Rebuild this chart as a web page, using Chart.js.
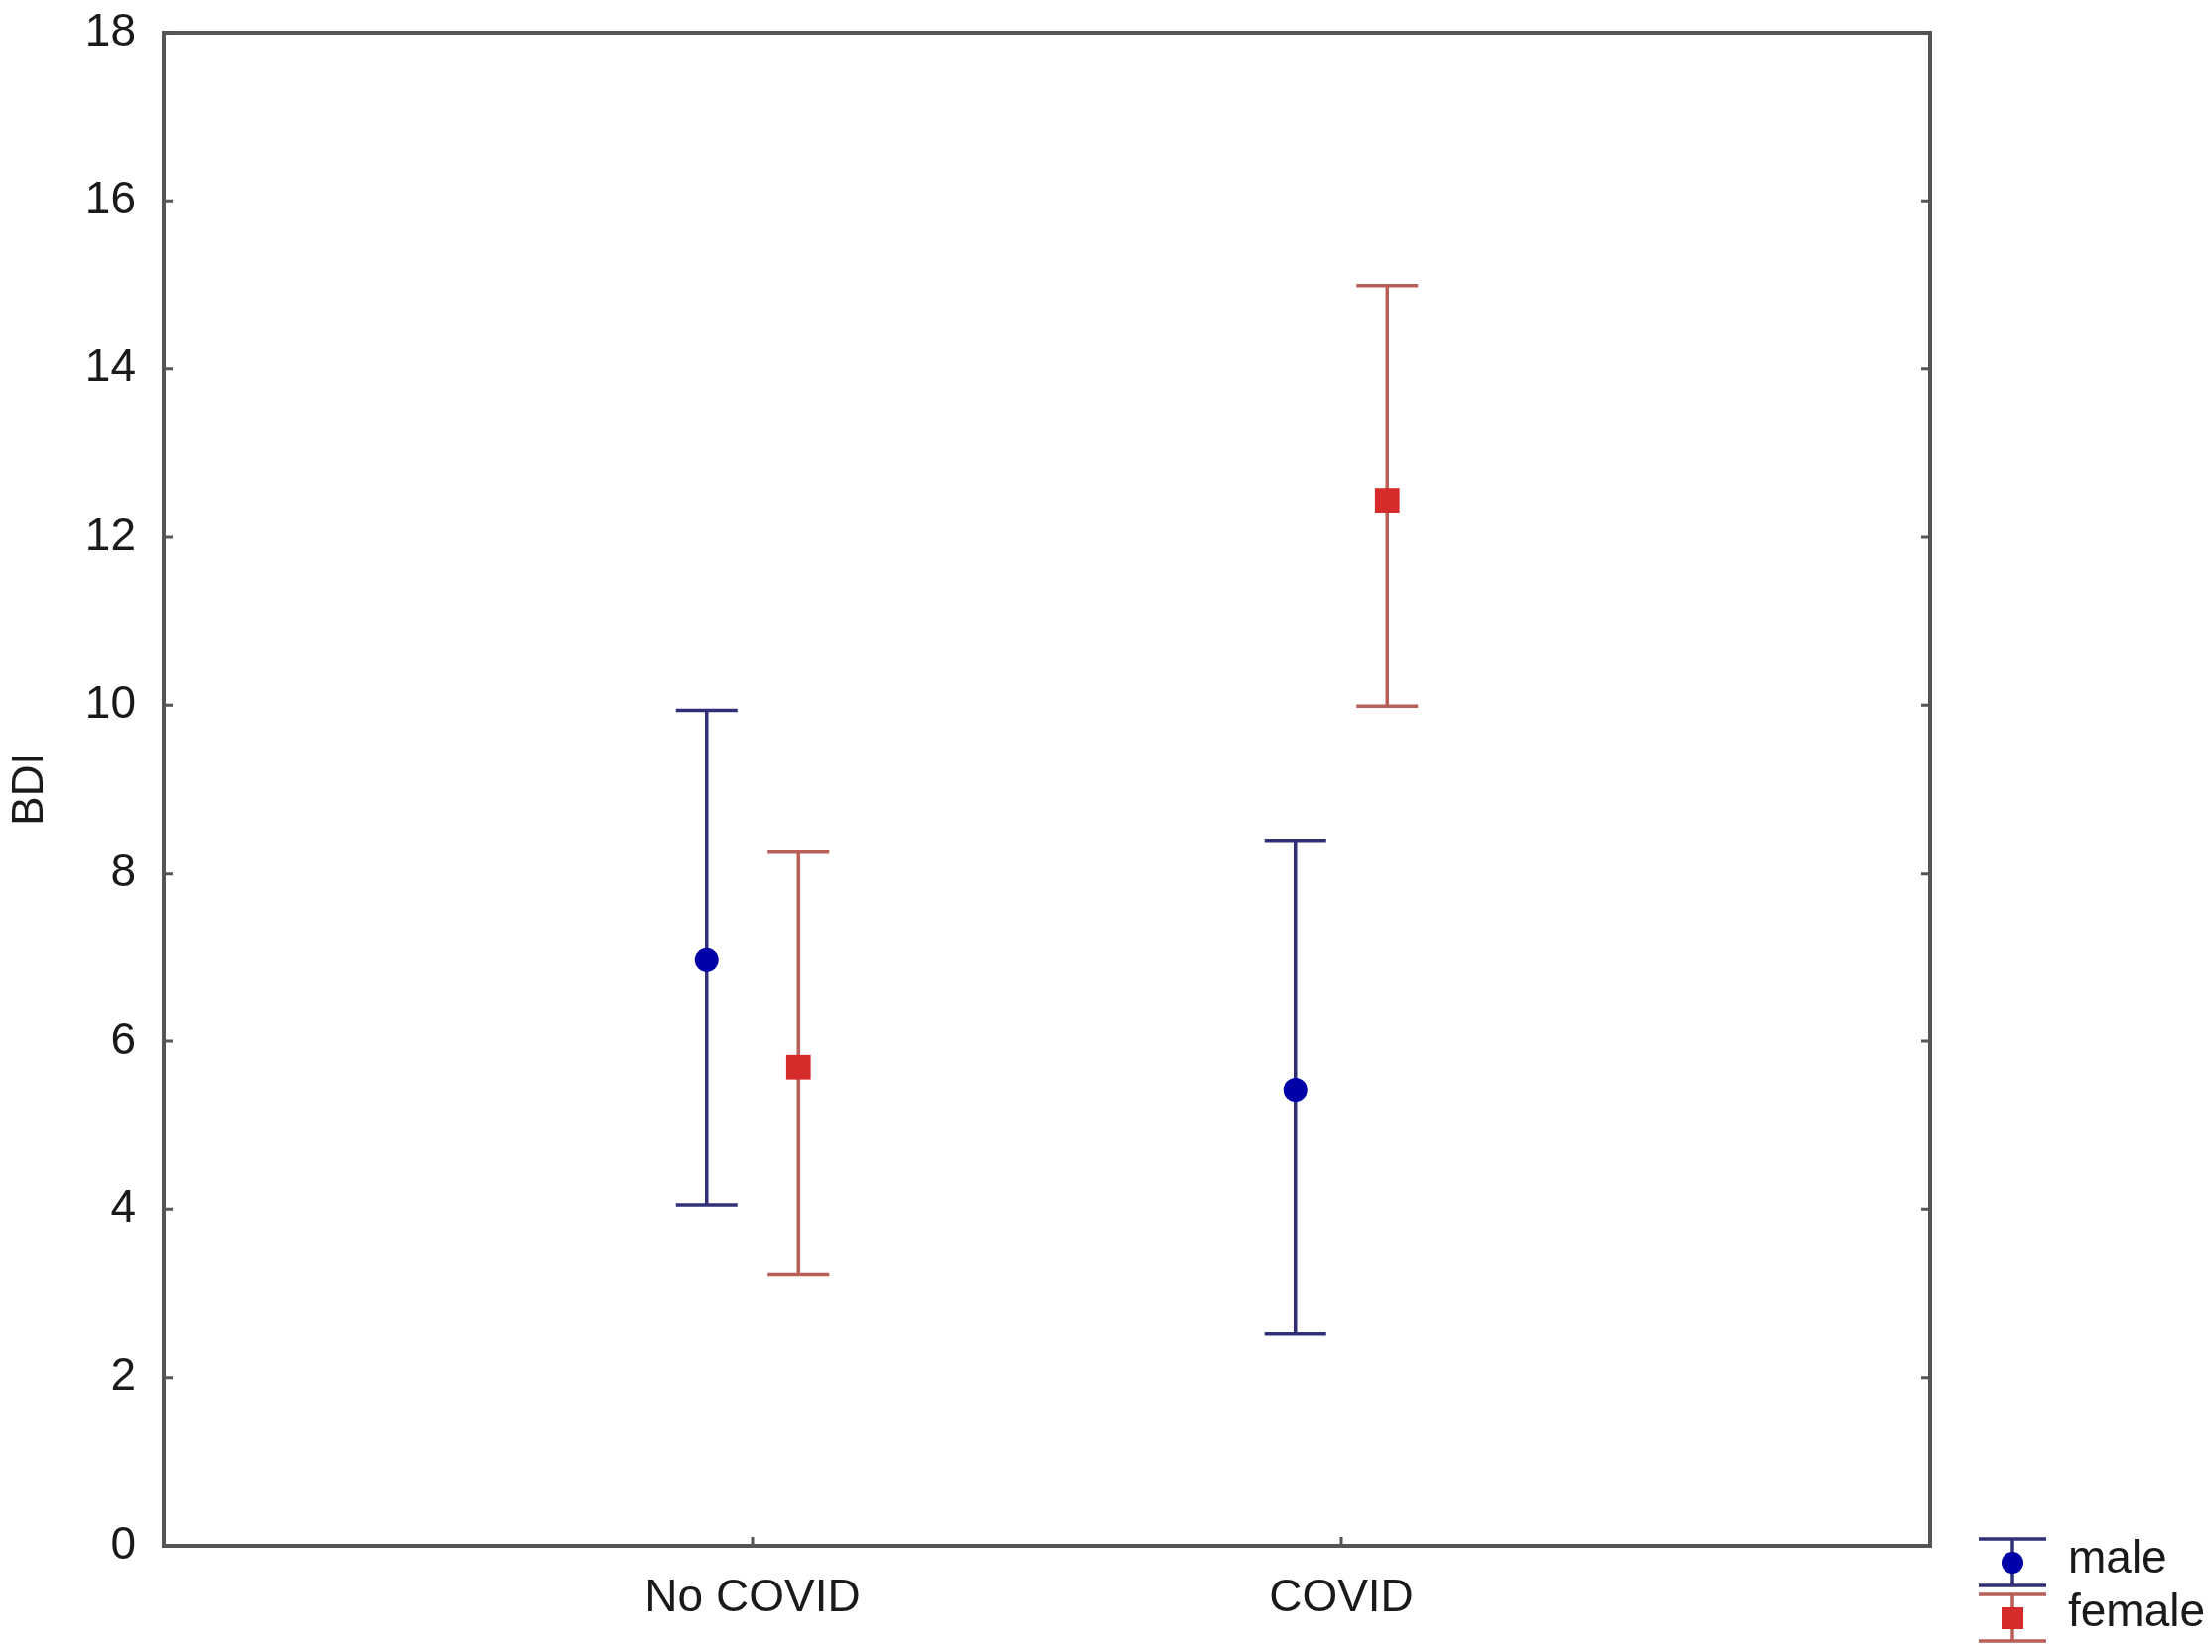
<!DOCTYPE html>
<html>
<head>
<meta charset="utf-8">
<script src="https://cdn.jsdelivr.net/npm/chart.js@4.4.1/dist/chart.umd.min.js"></script>
<style>
  html, body { margin: 0; padding: 0; background: #fff; }
  #wrap { width: 2228px; height: 1664px; position: relative; }
</style>
</head>
<body>
<div id="wrap"><canvas id="myChart"></canvas></div>
<script>
// BDI by group, mean with error bars
const categories = ['No COVID', 'COVID'];
const maleMean = [6.97, 5.42];
const maleLow = [4.05, 2.52];
const maleHigh = [9.94, 8.39];
const femaleMean = [5.69, 12.43];
const femaleLow = [3.23, 9.99];
const femaleHigh = [8.26, 14.99];
const yTicks = [0, 2, 4, 6, 8, 10, 12, 14, 16, 18];

const FONT = '"Liberation Sans", Arial, sans-serif';
const TEXT = '#1a1a1a';
const maleBar = '#303078';
const maleDot = '#0000a8';
const femaleBar = '#b85f58';
const femaleDot = '#d62b2b';

const shift = 0.078;

let series = [
    { label: 'male', mean: maleMean, low: maleLow, high: maleHigh, dx: -shift, bar: maleBar, dot: maleDot, style: 'circle', r: 12 },
    { label: 'female', mean: femaleMean, low: femaleLow, high: femaleHigh, dx: shift, bar: femaleBar, dot: femaleDot, style: 'rect', r: 17.5 }
];

let datasets = series.map(s => ({
    label: s.label,
    data: s.mean.map((v, i) => ({ x: i + 1 + s.dx, y: v, low: s.low[i], high: s.high[i] })),
    showLine: false,
    pointStyle: s.style,
    pointRadius: s.r,
    pointHoverRadius: s.r,
    backgroundColor: s.dot,
    borderColor: s.dot,
    borderWidth: 0,
    barColor: s.bar
}));

const errorBars = {
    id: 'errorBars',
    beforeDatasetsDraw(chart) {
        const ctx = chart.ctx;
        const xs = chart.scales.x, ys = chart.scales.y;
        const cap = 31;
        ctx.save();
        ctx.lineWidth = 3.5;
        chart.data.datasets.forEach(ds => {
            ctx.strokeStyle = ds.barColor;
            ds.data.forEach(p => {
                const x = xs.getPixelForValue(p.x);
                const y1 = ys.getPixelForValue(p.high);
                const y2 = ys.getPixelForValue(p.low);
                ctx.beginPath();
                ctx.moveTo(x, y1); ctx.lineTo(x, y2);
                ctx.moveTo(x - cap, y1); ctx.lineTo(x + cap, y1);
                ctx.moveTo(x - cap, y2); ctx.lineTo(x + cap, y2);
                ctx.stroke();
            });
        });
        ctx.restore();
    }
};

const frame = {
    id: 'frame',
    afterDraw(chart) {
        const ctx = chart.ctx;
        const a = chart.chartArea;
        const xs = chart.scales.x, ys = chart.scales.y;
        ctx.save();
        ctx.strokeStyle = '#555';
        ctx.lineWidth = 4;
        ctx.strokeRect(a.left, a.top, a.right - a.left, a.bottom - a.top);
        // inward ticks
        ctx.lineWidth = 3;
        ctx.beginPath();
        yTicks.forEach(v => {
            const y = ys.getPixelForValue(v);
            ctx.moveTo(a.left, y); ctx.lineTo(a.left + 9, y);
            ctx.moveTo(a.right, y); ctx.lineTo(a.right - 9, y);
        });
        categories.forEach((c, i) => {
            const x = xs.getPixelForValue(i + 1);
            ctx.moveTo(x, a.bottom); ctx.lineTo(x, a.bottom - 9);
        });
        ctx.stroke();

        // legend
        const lx = 2027, half = 34;
        ctx.font = '46px ' + FONT;
        ctx.textBaseline = 'middle';
        const rows = [{ s: series[0], top: 1550, bot: 1597, mid: 1574, ty: 1571 },
                      { s: series[1], top: 1606, bot: 1653, mid: 1630, ty: 1625 }];
        rows.forEach(r => {
            ctx.strokeStyle = r.s.bar;
            ctx.lineWidth = 3.5;
            ctx.beginPath();
            ctx.moveTo(lx - half, r.top); ctx.lineTo(lx + half, r.top);
            ctx.moveTo(lx - half, r.bot); ctx.lineTo(lx + half, r.bot);
            ctx.moveTo(lx, r.top); ctx.lineTo(lx, r.bot);
            ctx.stroke();
            ctx.fillStyle = r.s.dot;
            if (r.s.style === 'circle') {
                ctx.beginPath();
                ctx.arc(lx, r.mid, 11, 0, Math.PI * 2);
                ctx.fill();
            } else {
                ctx.fillRect(lx - 11, r.mid - 11, 22, 22);
            }
            ctx.fillStyle = TEXT;
            ctx.fillText(r.s.label, 2083, r.ty);
        });
        ctx.restore();
    }
};

let options = {
    responsive: true,
    maintainAspectRatio: false,
    animation: false,
    layout: { padding: { top: 33, right: 284, left: 0, bottom: 0 } },
    plugins: {
        legend: { display: false },
        tooltip: { enabled: false }
    },
    scales: {
        x: {
            type: 'linear',
            min: 0,
            max: 3,
            grid: { display: false },
            border: { display: false },
            afterBuildTicks: scale => { scale.ticks = categories.map((c, i) => ({ value: i + 1 })); },
            afterFit: scale => { scale.height = 107; scale.paddingLeft = 0; scale.paddingRight = 0; },
            ticks: {
                padding: 18,
                color: TEXT,
                font: { family: FONT, size: 46 },
                callback: v => categories[v - 1] || ''
            }
        },
        y: {
            min: 0,
            max: 18,
            grid: { display: false },
            border: { display: false },
            afterBuildTicks: scale => { scale.ticks = yTicks.map(v => ({ value: v })); },
            afterFit: scale => { scale.width = 165; scale.paddingTop = 0; scale.paddingBottom = 0; },
            ticks: {
                padding: 20,
                color: TEXT,
                font: { family: FONT, size: 46 }
            },
            title: {
                display: true,
                text: 'BDI',
                color: TEXT,
                padding: { top: 4, bottom: 0 },
                font: { family: FONT, size: 44 }
            }
        }
    }
};

var myChart = new Chart(document.getElementById('myChart'), {
    type: 'scatter',
    data: { datasets: datasets },
    options: options,
    plugins: [errorBars, frame]
});
</script>
</body>
</html>
